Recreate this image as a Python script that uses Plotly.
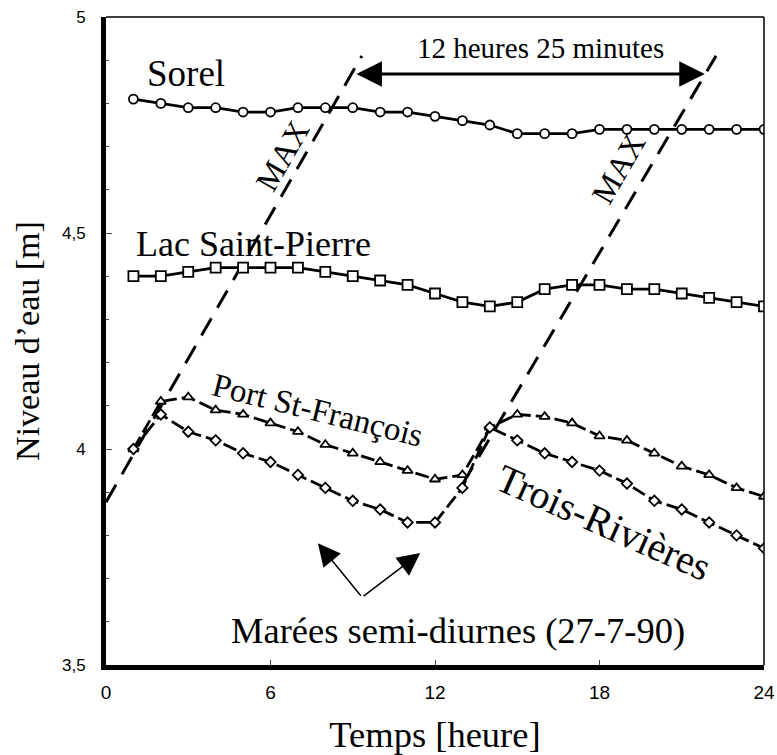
import plotly.graph_objects as go

# Hourly water levels (m), 27-7-90
hours = list(range(1, 25))
sorel = [4.81, 4.80, 4.79, 4.79, 4.78, 4.78, 4.79, 4.79, 4.79, 4.78, 4.78, 4.77,
         4.76, 4.75, 4.73, 4.73, 4.73, 4.74, 4.74, 4.74, 4.74, 4.74, 4.74, 4.74]
lac_st_pierre = [4.40, 4.40, 4.41, 4.42, 4.42, 4.42, 4.42, 4.41, 4.40, 4.39, 4.38, 4.36,
                 4.34, 4.33, 4.34, 4.37, 4.38, 4.38, 4.37, 4.37, 4.36, 4.35, 4.34, 4.33]
port_st_francois = [4.00, 4.11, 4.12, 4.09, 4.08, 4.06, 4.04, 4.01, 3.99, 3.97, 3.95, 3.93,
                    3.94, 4.05, 4.08, 4.075, 4.06, 4.03, 4.02, 3.99, 3.96, 3.94, 3.91, 3.89]
trois_rivieres = [4.00, 4.08, 4.04, 4.02, 3.99, 3.97, 3.94, 3.91, 3.88, 3.86, 3.83, 3.83,
                  3.91, 4.05, 4.02, 3.99, 3.97, 3.95, 3.92, 3.88, 3.86, 3.83, 3.80, 3.77]

# Propagation lines of the tidal maximum (hour, level)
max1_t = [0.0, 9.33]
max1_z = [3.877, 4.91]
max2_t = [13.0, 22.25]
max2_z = [3.918, 4.91]

# Tidal period arrow (12 h 25 min)
period_t = [9.08, 21.84]
period_z = 4.868

x_ticks = [0, 6, 12, 18, 24]
y_ticks = [3.5, 4, 4.5, 5]

serif = "Liberation Serif, Times New Roman, serif"
narrow = "Liberation Sans Narrow, Arial Narrow, Liberation Sans, Arial, sans-serif"

fig = go.Figure()

for t, z in ((max1_t, max1_z), (max2_t, max2_z)):
    fig.add_trace(go.Scatter(x=t, y=z, mode="lines",
                             line=dict(color="black", width=3, dash="20px,12px"),
                             hoverinfo="skip", showlegend=False))

fig.add_trace(go.Scatter(x=hours, y=sorel, mode="lines+markers", name="Sorel",
                         line=dict(color="black", width=2.8),
                         marker=dict(symbol="circle", size=9, color="white",
                                     line=dict(color="black", width=1.8))))
fig.add_trace(go.Scatter(x=hours, y=lac_st_pierre, mode="lines+markers", name="Lac Saint-Pierre",
                         line=dict(color="black", width=2.8),
                         marker=dict(symbol="square", size=10, color="white",
                                     line=dict(color="black", width=1.8))))
fig.add_trace(go.Scatter(x=hours, y=port_st_francois, mode="lines+markers", name="Port St-François",
                         line=dict(color="black", width=2.8, dash="14px,5px"),
                         marker=dict(symbol="triangle-up", size=9, color="white",
                                     line=dict(color="black", width=1.8))))
fig.add_trace(go.Scatter(x=hours, y=trois_rivieres, mode="lines+markers", name="Trois-Rivières",
                         line=dict(color="black", width=2.8, dash="14px,5px"),
                         marker=dict(symbol="diamond", size=8, color="white",
                                     line=dict(color="black", width=1.8))))

annotations = [
    dict(x=2.92, y=4.87, text="Sorel", font=dict(size=37)),
    dict(x=15.86, y=4.928, text="12 heures 25 minutes", font=dict(size=29)),
    dict(x=5.38, y=4.475, text="Lac Saint-Pierre", font=dict(size=36)),
    dict(x=7.7, y=4.09, text="Port St-François", font=dict(size=33), textangle=14),
    dict(x=18.15, y=3.83, text="Trois-Rivières", font=dict(size=40), textangle=24),
    dict(x=6.45, y=4.68, text="MAX", font=dict(size=32), textangle=-60),
    dict(x=18.7, y=4.65, text="MAX", font=dict(size=32), textangle=-60),
    dict(x=12.84, y=3.581, text="Marées semi-diurnes (27-7-90)", font=dict(size=36.5)),
]
for a in annotations:
    a.update(xref="x", yref="y", showarrow=False)
    a["font"].update(family=serif, color="black")

# Double-headed arrow for the tidal period
annotations.append(dict(x=period_t[1], y=period_z, ax=period_t[0], ay=period_z,
                        xref="x", yref="y", axref="x", ayref="y", text="",
                        showarrow=True, arrowside="end+start", arrowhead=2,
                        arrowsize=1.7, arrowwidth=3, arrowcolor="black"))
# Arrows pointing to the two semi-diurnal tides
for tip_t, tip_z in ((7.73, 3.782), (11.46, 3.759)):
    annotations.append(dict(x=tip_t, y=tip_z, ax=9.34, ay=3.657,
                            xref="x", yref="y", axref="x", ayref="y", text="",
                            showarrow=True, arrowhead=2, arrowsize=3,
                            arrowwidth=1.5, arrowcolor="black"))

fig.update_layout(
    width=777, height=755,
    margin=dict(l=106, r=13, t=17, b=90),
    paper_bgcolor="white", plot_bgcolor="white",
    separators=",.",
    showlegend=False,
    annotations=annotations,
    shapes=[
        dict(type="line", xref="paper", yref="paper", x0=0, x1=1, y0=1, y1=1,
             line=dict(color="black", width=1.5)),
        dict(type="line", xref="paper", yref="paper", x0=1, x1=1, y0=0, y1=1,
             line=dict(color="black", width=1.5)),
    ],
)

fig.update_xaxes(
    range=[0, 24], tickvals=x_ticks, ticks="inside", ticklen=5, tickwidth=1,
    showline=True, linewidth=5, linecolor="black", showgrid=False, zeroline=False,
    automargin=False,
    tickfont=dict(family=narrow, size=19, color="black"), ticklabelstandoff=6,
    title=dict(text="Temps [heure]", font=dict(family=serif, size=36.5, color="black"),
               standoff=28),
)
fig.update_yaxes(
    range=[3.5, 5], tickvals=y_ticks, ticks="inside", ticklen=6, tickwidth=1,
    minor=dict(dtick=0.1, ticks="inside", ticklen=3, tickwidth=1),
    showline=True, linewidth=5, linecolor="black", showgrid=False, zeroline=False,
    automargin=False,
    tickfont=dict(family=narrow, size=17, color="black"), ticklabelstandoff=12,
    title=dict(text="Niveau d’eau [m]", font=dict(family=serif, size=34, color="black"),
               standoff=14),
)

fig.write_html("out.html")
